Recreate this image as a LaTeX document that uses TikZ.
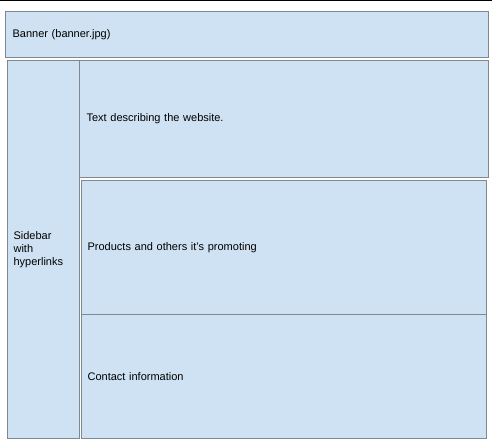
\documentclass[tikz,border=0pt]{standalone}
\usepackage{fontspec}
\setmainfont{Liberation Sans}
\usepackage{xcolor}
\usetikzlibrary{positioning, calc}

\definecolor{panelblue}{HTML}{CFE2F3}
\definecolor{paneledge}{HTML}{7F8790}

\begin{document}
\begin{tikzpicture}[
    x=1pt, y=-1pt,
    box/.style={rectangle, draw=paneledge, fill=panelblue, line width=1.2pt,
        text=black, font=\fontsize{11}{13}\selectfont, anchor=north west,
        align=left, inner xsep=7pt, inner ysep=0pt},
    rule/.style={line width=1.4pt, black}
]
    \useasboundingbox (0,0) rectangle (492,447);
    \draw[rule] (0,0.7) -- (492,0.7);
    % page layout
    \node[box, text width=469pt, minimum height=46pt] (banner) at (5,11) {Banner (banner.jpg)};
    \node[box, inner xsep=6pt, text width=60pt, minimum height=378pt] (sidebar) at (7,60) {Sidebar\\with\\hyperlinks};
    \node[box, text width=395pt, minimum height=117pt] (intro) at (79,60) {Text describing the website.};
    \node[box, inner xsep=6pt, text width=393pt, minimum height=134pt] (products) at (81,180) {Products and others it's promoting};
    \node[box, inner xsep=6pt, text width=393pt, minimum height=124pt] (contact) at (81,314) {Contact information};
\end{tikzpicture}
\end{document}
